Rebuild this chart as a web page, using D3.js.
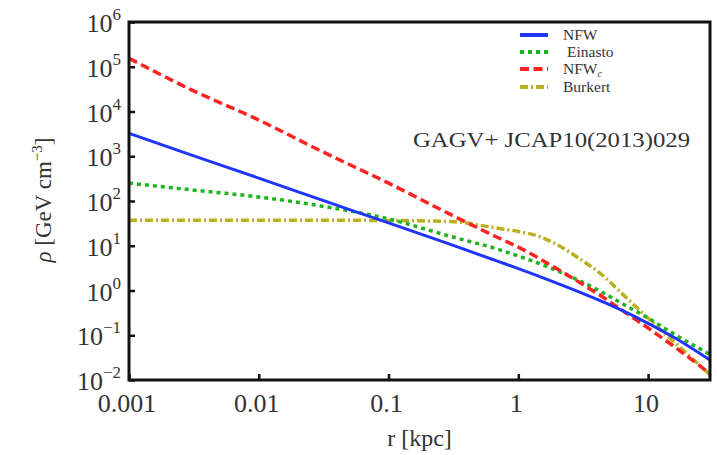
<!DOCTYPE html>
<html>
<head>
<meta charset="utf-8">
<script src="https://cdn.jsdelivr.net/npm/d3@7"></script>
<style>
  body { margin: 0; background: #fff; }
  svg { font-family: "Liberation Serif", "DejaVu Serif", serif; }
</style>
</head>
<body>
<svg id="chart" width="717" height="455"></svg>
<script>
// radius samples [kpc] and densities [GeV cm^-3]
const radii = [0.001, 0.003, 0.01, 0.03, 0.1, 0.3, 0.7, 1, 1.4, 2, 3, 4.5, 6.3, 10, 16, 30];
const nfw = [3240, 1072, 324, 107, 32.4, 10.7, 4.47, 3.09, 2.15, 1.45, 0.910, 0.555, 0.358, 0.185, 0.0879, 0.0280];
const einasto = [251, 178, 123, 77.6, 39.8, 16.2, 8.32, 5.89, 4.17, 2.75, 1.62, 0.891, 0.513, 0.240, 0.105, 0.0372];
const nfwc = [155000, 30900, 6460, 1320, 251, 50.1, 15.1, 9.33, 5.50, 3.02, 1.48, 0.708, 0.363, 0.145, 0.0550, 0.0138];
const burkert = [37.2, 37.2, 37.2, 37.1, 36.7, 34.7, 24.5, 20.9, 16.6, 10.5, 5.01, 2.14, 0.851, 0.240, 0.0692, 0.0132];

const xTicks = [0.001, 0.01, 0.1, 1, 10];
const xTickLabels = ["0.001", "0.01", "0.1", "1", "10"];
const yExponents = [-2, -1, 0, 1, 2, 3, 4, 5, 6];

const svg = d3.select("#chart");
const plotLeft = 129, plotRight = 710, plotTop = 22, plotBottom = 380;
const textColor = "#333";

const x = d3.scaleLog().domain([0.001, 30]).range([plotLeft, plotRight]);
const y = d3.scaleLog().domain([0.01, 1e6]).range([plotBottom, plotTop]);

const styles = {
  NFW: { color: "#1f35ff", dash: null, width: 3 },
  Einasto: { color: "#1fb31f", dash: "4,4", width: 3.5 },
  NFWc: { color: "#ff2424", dash: "9,4.5", width: 3.5 },
  Burkert: { color: "#b9b022", dash: "8,3,2,3", width: 3.5 },
};

const series = [
  { name: "NFW", values: nfw },
  { name: "Einasto", values: einasto },
  { name: "NFWc", values: nfwc },
  { name: "Burkert", values: burkert },
];

svg.append("defs").append("clipPath").attr("id", "plot-clip")
  .append("rect")
  .attr("x", plotLeft).attr("y", plotTop)
  .attr("width", plotRight - plotLeft).attr("height", plotBottom - plotTop);

const line = d3.line()
  .x((d) => x(d.r))
  .y((d) => y(d.rho))
  .curve(d3.curveMonotoneX);

// draw order: Burkert under the others, like the figure
const drawOrder = ["Burkert", "Einasto", "NFWc", "NFW"];
const curves = svg.append("g").attr("clip-path", "url(#plot-clip)");
drawOrder.forEach((name) => {
  const s = series.find((d) => d.name === name);
  const st = styles[name];
  curves.append("path")
    .datum(radii.map((r, i) => ({ r: r, rho: s.values[i] })))
    .attr("d", line)
    .attr("fill", "none")
    .attr("stroke", st.color)
    .attr("stroke-width", st.width)
    .attr("stroke-dasharray", st.dash);
});

// axes: inward ticks, no labels from the axis itself
const xAxis = d3.axisBottom(x).tickValues(xTicks).tickSize(-6).tickFormat("");
svg.append("g")
  .attr("transform", `translate(0, ${plotBottom})`)
  .call(xAxis)
  .call((g) => g.select(".domain").remove())
  .call((g) => g.selectAll(".tick line").attr("stroke", "#111").attr("stroke-width", 2.5));

const yAxis = d3.axisLeft(y).tickValues(yExponents.map((e) => Math.pow(10, e))).tickSize(-6).tickFormat("");
svg.append("g")
  .attr("transform", `translate(${plotLeft}, 0)`)
  .call(yAxis)
  .call((g) => g.select(".domain").remove())
  .call((g) => g.selectAll(".tick line").attr("stroke", "#111").attr("stroke-width", 2.5));

// frame
svg.append("rect")
  .attr("x", plotLeft).attr("y", plotTop)
  .attr("width", plotRight - plotLeft).attr("height", plotBottom - plotTop)
  .attr("fill", "none")
  .attr("stroke", "#111")
  .attr("stroke-width", 3);

// x tick labels
svg.append("g").selectAll("text")
  .data(xTicks)
  .join("text")
  .attr("x", (d) => x(d) - 2)
  .attr("y", 412)
  .attr("text-anchor", "middle")
  .attr("font-size", 26)
  .attr("fill", textColor)
  .text((d, i) => xTickLabels[i]);

// y tick labels 10^n
const yLab = svg.append("g").selectAll("text")
  .data(yExponents)
  .join("text")
  .attr("x", 121)
  .attr("y", (d) => y(Math.pow(10, d)) + 10)
  .attr("text-anchor", "end")
  .attr("font-size", 26)
  .attr("fill", textColor);
yLab.append("tspan").text("10");
yLab.append("tspan")
  .attr("dy", -12)
  .attr("font-size", 17)
  .text((d) => (d < 0 ? "\u2212" + Math.abs(d) : String(d)));

// axis titles
svg.append("text")
  .attr("x", (plotLeft + plotRight) / 2)
  .attr("y", 446)
  .attr("text-anchor", "middle")
  .attr("font-size", 24)
  .attr("fill", textColor)
  .text("r [kpc]");

const yTitle = svg.append("text")
  .attr("transform", "translate(51, 200) rotate(-90)")
  .attr("text-anchor", "middle")
  .attr("font-size", 23)
  .attr("fill", textColor);
yTitle.append("tspan").attr("font-style", "italic").text("\u03c1");
yTitle.append("tspan").text(" [GeV cm");
yTitle.append("tspan").attr("dy", -9).attr("font-size", 15).text("\u22123");
yTitle.append("tspan").attr("dy", 9).text("]");

// annotation
svg.append("text")
  .attr("x", 413)
  .attr("y", 147)
  .attr("font-size", 21)
  .attr("fill", textColor)
  .attr("textLength", 277)
  .attr("lengthAdjust", "spacingAndGlyphs")
  .text("GAGV+ JCAP10(2013)029");

// legend
const legend = svg.append("g");
const rowY = [35, 52, 69, 87];
series.forEach((s, i) => {
  const st = styles[s.name];
  legend.append("line")
    .attr("x1", 520).attr("x2", 548)
    .attr("y1", rowY[i]).attr("y2", rowY[i])
    .attr("stroke", st.color)
    .attr("stroke-width", 4)
    .attr("stroke-dasharray", st.dash);
  const t = legend.append("text")
    .attr("x", s.name === "Einasto" ? 567 : 563)
    .attr("y", rowY[i] + 5)
    .attr("font-size", 15.5)
    .attr("fill", textColor);
  if (s.name === "NFWc") {
    t.append("tspan").text("NFW");
    t.append("tspan").attr("dy", 3).attr("font-size", 10).attr("font-style", "italic").text("c");
  } else {
    t.text(s.name);
  }
});
</script>
</body>
</html>
